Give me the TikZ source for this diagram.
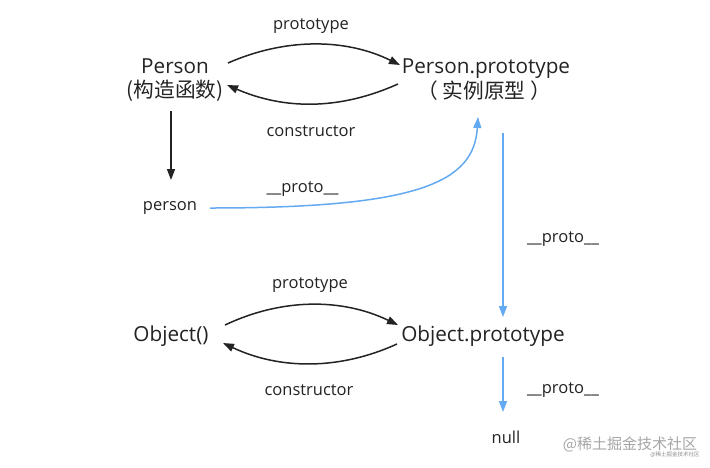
\documentclass[tikz,border=0pt]{standalone}
\usepackage{fontspec}
\setmainfont{Open Sans}
\newfontfamily\cjk{Noto Sans CJK SC}
\usetikzlibrary{arrows.meta}
\definecolor{ink}{RGB}{35,35,35}
\definecolor{blu}{RGB}{100,170,243}
\tikzset{
  lbl/.style={font=\fontsize{16.5}{18}\selectfont, text=ink, inner sep=0pt, anchor=base},
  big/.style={font=\fontsize{20.7}{24}\selectfont, text=ink, inner sep=0pt, anchor=base},
  blk/.style={draw=ink, line width=1.5pt, -{Triangle[length=11pt,width=8pt]}},
  bluearr/.style={draw=blu, line width=1.5pt, -{Triangle[length=11pt,width=8pt]}},
}
\begin{document}
\begin{tikzpicture}[x=1pt,y=-1pt]
\useasboundingbox[fill=white] (0,0) rectangle (710,467);
% nodes
\node[big] (P) at (175,73) {Person};
\node[big, anchor=center] (Pc) at (175,91) {\cjk (构造函数)};
\node[big] (PP) at (486,73) {Person.prototype};
\node[big, anchor=center] (PPc) at (484,91) {\cjk （ 实例原型 ）};
\node[lbl] (p1) at (311,29) {prototype};
\node[lbl] (c1) at (311,136) {constructor};
\node[lbl] (inst) at (170,210) {person};
\node[lbl] (pr1) at (302.5,192) {\_\_proto\_\_};
\node[lbl] (pr2) at (563,242) {\_\_proto\_\_};
\node[lbl] (p2) at (310,288) {prototype};
\node[big] (O) at (171,341) {Object()};
\node[big] (OP) at (483,341) {Object.prototype};
\node[lbl] (c2) at (309,395) {constructor};
\node[lbl] (pr3) at (563,393) {\_\_proto\_\_};
\node[lbl] (nul) at (506,443) {null};
\node[font=\cjk\fontsize{15}{17}\selectfont, text=black!35, inner sep=0pt] (wm) at (630,444) {@稀土掘金技术社区};
\node[font=\cjk\fontsize{5.5}{6}\selectfont, text=black!45, inner sep=0pt] (wm2) at (675,455) {@稀土掘金技术社区};
% anchor coordinates
\coordinate (a1) at (228,63);
\coordinate (a2) at (400,65);
\coordinate (b1) at (398,84);
\coordinate (b2) at (227,85);
\coordinate (d1) at (225,325);
\coordinate (d2) at (398,325);
\coordinate (e1) at (397,344);
\coordinate (e2) at (223,343);
\coordinate (v1) at (171,111);
\coordinate (v2) at (171,180);
\coordinate (s1) at (210,208);
\coordinate (s2) at (478,117);
\coordinate (u1) at (503,133);
\coordinate (u2) at (503,317);
\coordinate (w1) at (503,357);
\coordinate (w2) at (503,412);
% connectors
\draw[blk] (a1) .. controls (285,38) and (345,38) .. (a2);
\draw[blk] (b1) .. controls (340,110) and (285,110) .. (b2);
\draw[blk] (v1) -- (v2);
\draw[blk] (d1) .. controls (282,298) and (342,298) .. (d2);
\draw[blk] (e1) .. controls (340,370) and (280,370) .. (e2);
\draw[bluearr] (s1) .. controls (420,208) and (474,182) .. (s2);
\draw[bluearr] (u1) -- (u2);
\draw[bluearr] (w1) -- (w2);
\end{tikzpicture}
\end{document}
